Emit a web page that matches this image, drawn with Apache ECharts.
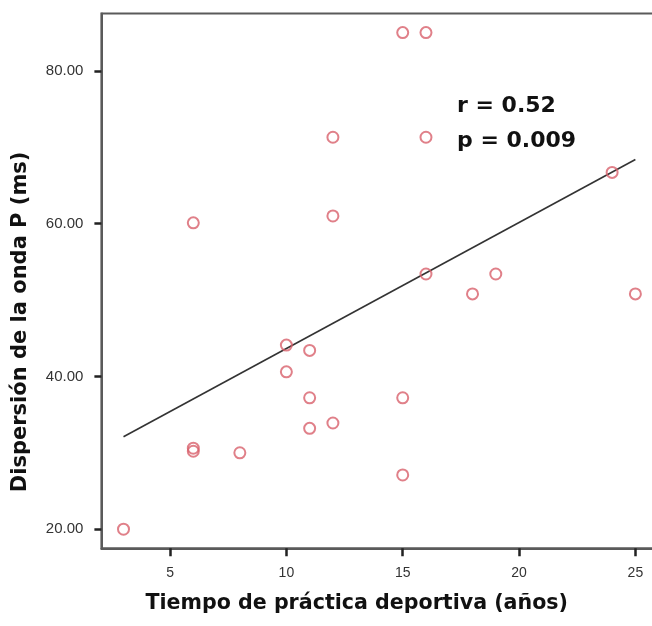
<!DOCTYPE html>
<html>
<head>
<meta charset="utf-8">
<script src="https://cdn.jsdelivr.net/npm/echarts@6/dist/echarts.min.js"></script>
<style>
  html, body { margin: 0; padding: 0; background: #fff; }
  #scatter-chart { width: 652px; height: 626px; }
</style>
</head>
<body>
<div id="scatter-chart"></div>
<script>
// years of sports practice vs P-wave dispersion (ms)
var years = [15, 16, 12, 16, 12, 16, 3, 6, 6, 8, 10, 10, 11, 11, 11, 12, 15, 15, 6, 24, 19, 18, 25];
var dispersion = [85, 85, 71.3, 71.3, 61, 53.4, 20, 30.6, 30.2, 30, 44.1, 40.6, 43.4, 37.2, 33.2, 33.9, 37.2, 27.1, 60.1, 66.7, 53.4, 50.8, 50.8];

// regression line end points
var fitX = [3, 25];
var fitY = [32.1, 68.4];

var xTicks = [5, 10, 15, 20, 25];
var yTicks = [20, 40, 60, 80];
var statsText = ["r = 0.52", "p = 0.009"];

var points = [];
for (var i = 0; i < years.length; i++) {
  points.push([years[i], dispersion[i]]);
}
var fitLine = [];
for (var j = 0; j < fitX.length; j++) {
  fitLine.push([fitX[j], fitY[j]]);
}

var scatterDom = document.getElementById("scatter-chart");
var scatterChart = echarts.init(scatterDom);

var axisColor = "#5a5a5a";
var labelFont = "Liberation Sans, Arial, sans-serif";
var titleFont = "DejaVu Sans, Liberation Sans, sans-serif";

var scatterOption = {
  backgroundColor: "#fff",
  animation: false,
  grid: {
    left: 101.4,
    right: -2,
    top: 13.5,
    bottom: 77.7,
    show: true,
    borderColor: axisColor,
    borderWidth: 2,
    outerBoundsMode: "none",
  },
  xAxis: {
    type: "value",
    min: 2.05,
    max: 25.8,
    splitLine: { show: false },
    axisLine: { show: true, lineStyle: { color: axisColor, width: 2 } },
    axisTick: {
      show: true,
      customValues: xTicks,
      length: 8,
      lineStyle: { color: "#222", width: 2.5 },
    },
    axisLabel: {
      customValues: xTicks,
      margin: 18,
      color: "#333",
      fontSize: 14,
      fontFamily: labelFont,
    },
    name: "Tiempo de práctica deportiva (años)",
    nameLocation: "middle",
    nameGap: 45,
    nameTextStyle: {
      fontSize: 20.6,
      fontWeight: "bold",
      color: "#111",
      fontFamily: titleFont,
      padding: [0, 42, 0, 0],
    },
  },
  yAxis: {
    type: "value",
    min: 17.5,
    max: 87.5,
    splitLine: { show: false },
    axisLine: { show: true, lineStyle: { color: axisColor, width: 2 } },
    axisTick: {
      show: true,
      customValues: yTicks,
      length: 7,
      lineStyle: { color: "#222", width: 2.5 },
    },
    axisLabel: {
      customValues: yTicks,
      margin: 18,
      color: "#333",
      fontSize: 15,
      fontFamily: labelFont,
      formatter: function (v) {
        return v.toFixed(2);
      },
    },
    name: "Dispersión de la onda P (ms)",
    nameLocation: "middle",
    nameGap: 70,
    nameTextStyle: {
      fontSize: 21,
      fontWeight: "bold",
      color: "#111",
      fontFamily: titleFont,
      padding: [0, 82, 0, 0],
    },
  },
  graphic: [
    {
      type: "text",
      left: 457,
      top: 89,
      style: {
        text: statsText.join("\n"),
        font: "bold 22px DejaVu Sans, Liberation Sans, sans-serif",
        fill: "#111",
        lineHeight: 35,
      },
    },
  ],
  series: [
    {
      type: "line",
      data: fitLine,
      symbol: "none",
      lineStyle: { color: "#333", width: 1.6 },
      z: 2,
    },
    {
      type: "scatter",
      data: points,
      symbol: "circle",
      symbolSize: 11,
      itemStyle: {
        color: "rgba(255,255,255,0)",
        borderColor: "#d8606c",
        borderWidth: 2,
      },
      z: 3,
    },
  ],
};

scatterChart.setOption(scatterOption);
</script>
</body>
</html>
